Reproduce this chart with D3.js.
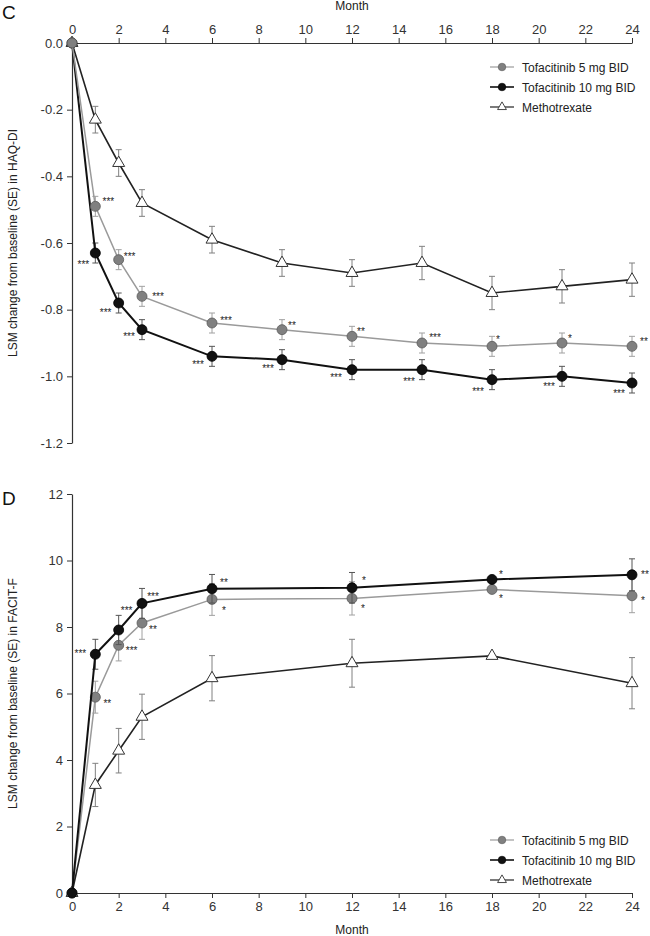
<!DOCTYPE html>
<html>
<head>
<meta charset="utf-8">
<script src="https://cdn.jsdelivr.net/npm/d3@7/dist/d3.min.js"></script>
<style>
  html, body { margin: 0; padding: 0; background: #fff; }
  svg { display: block; font-family: "Liberation Sans", Arial, Helvetica, sans-serif; }
</style>
</head>
<body>
<svg id="chart" width="650" height="936"></svg>
<script>
// ---------- DATA ----------
const seriesNames = ["Tofacitinib 5 mg BID", "Tofacitinib 10 mg BID", "Methotrexate"];

// Panel C: HAQ-DI
const haqMonths = [0, 1, 2, 3, 6, 9, 12, 15, 18, 21, 24];
const haq5    = [0, -0.49, -0.65, -0.76, -0.84, -0.86, -0.88, -0.90, -0.91, -0.90, -0.91];
const haq5Se  = [0, 0.03, 0.03, 0.03, 0.03, 0.03, 0.03, 0.03, 0.03, 0.03, 0.03];
const haq10   = [0, -0.63, -0.78, -0.86, -0.94, -0.95, -0.98, -0.98, -1.01, -1.00, -1.02];
const haq10Se = [0, 0.03, 0.03, 0.03, 0.03, 0.03, 0.03, 0.03, 0.03, 0.03, 0.03];
const haqMtx  = [0, -0.23, -0.36, -0.48, -0.59, -0.66, -0.69, -0.66, -0.75, -0.73, -0.71];
const haqMtxSe= [0, 0.04, 0.04, 0.04, 0.04, 0.04, 0.04, 0.05, 0.05, 0.05, 0.05];
const haq5Sig  = ["", "***", "***", "***", "***", "**", "**", "***", "*", "*", "**"];
const haq10Sig = ["", "***", "***", "***", "***", "***", "***", "***", "***", "***", "***"];
const haqYTicks = [0, -0.2, -0.4, -0.6, -0.8, -1.0, -1.2];

// Panel D: FACIT-F
const facMonths = [0, 1, 2, 3, 6, 12, 18, 24];
const fac5    = [0, 5.89, 7.45, 8.12, 8.83, 8.86, 9.13, 8.94];
const fac5Se  = [0, 0.48, 0.47, 0.49, 0.48, 0.50, 0, 0.51];
const fac10   = [0, 7.18, 7.91, 8.71, 9.15, 9.18, 9.43, 9.57];
const fac10Se = [0, 0.45, 0.44, 0.45, 0.43, 0.46, 0, 0.48];
const facMtx  = [0, 3.25, 4.28, 5.30, 6.46, 6.91, 7.13, 6.31];
const facMtxSe= [0, 0.65, 0.67, 0.68, 0.68, 0.72, 0, 0.77];
const fac5Sig  = ["", "**", "***", "**", "*", "*", "*", "*"];
const fac10Sig = ["", "***", "***", "***", "**", "*", "*", "**"];
const facYTicks = [0, 2, 4, 6, 8, 10, 12];

const monthTicks = [0, 2, 4, 6, 8, 10, 12, 14, 16, 18, 20, 22, 24];

// ---------- LAYOUT (pixel offsets of significance labels) ----------
const haq5SigOff  = [null, [13,-7],[11,-5],[16,-2],[14,-5],[10,-6],[9,-7],[13,-8],[6,-9],[8,-6.5],[12,-7]];
const haq10SigOff = [null, [-12,9],[-13,7],[-13,5],[-14,6],[-14,7],[-16,6],[-13,10],[-14,10],[-13,8],[-13,8]];
const fac5SigOff  = [null, [12,4],[13,3],[11,4],[12,9],[11,8],[9,7],[11,3]];
const fac10SigOff = [null, [-15,-3],[8,-21],[11,-9],[12,-8],[12,-9],[9,-7],[13,-2]];

const styles = [
  { line: "#9a9a9a", lw: 1.5, fill: "#808080", stroke: "#5a5a5a", err: "#a0a0a0", shape: "circle" },
  { line: "#111111", lw: 2,   fill: "#111111", stroke: "#000000", err: "#555555", shape: "circle" },
  { line: "#222222", lw: 1.6, fill: "#ffffff", stroke: "#333333", err: "#808080", shape: "triangle" }
];

const svg = d3.select("#chart");
const X0 = 72, X1 = 632;

function drawPanel(cfg) {
  const g = svg.append("g");
  const x = d3.scaleLinear().domain([0, 24]).range([X0, X1]);
  const y = d3.scaleLinear().domain(cfg.yDomain).range(cfg.yRange);

  // axes
  const xAxis = (cfg.xTop ? d3.axisTop(x) : d3.axisBottom(x))
    .tickValues(monthTicks).tickSize(5).tickSizeOuter(0).tickPadding(4);
  const xg = g.append("g")
    .attr("transform", `translate(0,${cfg.xAxisY})`)
    .call(xAxis);
  const yAxis = d3.axisLeft(y).tickValues(cfg.yTicks).tickSize(5).tickSizeOuter(0)
    .tickPadding(4).tickFormat(cfg.yFormat);
  const yg = g.append("g").attr("transform", `translate(${X0},0)`).call(yAxis);
  [xg, yg].forEach(a => {
    a.selectAll("path.domain").attr("stroke", "#333").attr("stroke-width", 1.2);
    a.selectAll(".tick line").attr("stroke", "#333").attr("stroke-width", 1);
    a.selectAll(".tick text").attr("fill", "#333").attr("font-size", 13)
      .attr("font-family", "'Liberation Sans', Arial, sans-serif");
  });

  g.append("text").attr("x", x(12)).attr("y", cfg.monthLabelY)
    .attr("text-anchor", "middle").attr("font-size", 12).attr("fill", "#222").text("Month");

  g.append("text")
    .attr("transform", `translate(17,${(cfg.yRange[0] + cfg.yRange[1]) / 2}) rotate(-90)`)
    .attr("text-anchor", "middle").attr("font-size", 12).attr("fill", "#222")
    .text(cfg.yTitle);

  g.append("text").attr("x", 2).attr("y", cfg.letterY)
    .attr("font-size", 19).attr("fill", "#111").text(cfg.letter);

  const months = cfg.months;
  const line = d3.line().x(d => x(d.m)).y(d => y(d.v));

  cfg.order.forEach(si => {
    const st = styles[si];
    const vals = cfg.values[si], ses = cfg.ses[si];
    const pts = months.map((m, i) => ({ m, v: vals[i], se: ses[i] }));
    const sg = g.append("g");
    // error bars
    pts.filter(p => p.se > 0).forEach(p => {
      const cx = x(p.m), yt = y(p.v + p.se), yb = y(p.v - p.se);
      sg.append("line").attr("x1", cx).attr("x2", cx).attr("y1", yt).attr("y2", yb)
        .attr("stroke", st.err).attr("stroke-width", 1);
      [yt, yb].forEach(yy => sg.append("line").attr("x1", cx - 3).attr("x2", cx + 3)
        .attr("y1", yy).attr("y2", yy).attr("stroke", st.err).attr("stroke-width", 1));
    });
    sg.append("path").datum(pts).attr("d", line).attr("fill", "none")
      .attr("stroke", st.line).attr("stroke-width", st.lw);
    pts.forEach(p => {
      if (st.shape === "circle") {
        sg.append("circle").attr("cx", x(p.m)).attr("cy", y(p.v)).attr("r", 5)
          .attr("fill", st.fill).attr("stroke", st.stroke).attr("stroke-width", 0.8);
      } else {
        sg.append("path").attr("d", d3.symbol(d3.symbolTriangle, 62)())
          .attr("transform", `translate(${x(p.m)},${y(p.v)})`)
          .attr("fill", st.fill).attr("stroke", st.stroke).attr("stroke-width", 1);
      }
    });
  });

  // significance labels
  cfg.sigs.forEach(s => {
    s.labels.forEach((lab, i) => {
      if (!lab) return;
      const off = s.off[i];
      g.append("text")
        .attr("x", x(months[i]) + off[0])
        .attr("y", y(s.vals[i]) + off[1] + 5.5)
        .attr("text-anchor", "middle").attr("font-size", 10).attr("fill", "#222")
        .text(lab);
    });
  });

  // legend
  const lg = g.append("g");
  cfg.legendRows.forEach((ry, i) => {
    const st = styles[i];
    lg.append("line").attr("x1", 490).attr("x2", 514).attr("y1", ry).attr("y2", ry)
      .attr("stroke", st.line).attr("stroke-width", i === 1 ? 1.6 : 1.2);
    if (st.shape === "circle") {
      lg.append("circle").attr("cx", 502).attr("cy", ry).attr("r", 3.8)
        .attr("fill", st.fill).attr("stroke", st.stroke).attr("stroke-width", 0.6);
    } else {
      lg.append("path").attr("d", d3.symbol(d3.symbolTriangle, 34)())
        .attr("transform", `translate(502,${ry})`)
        .attr("fill", "#fff").attr("stroke", st.stroke).attr("stroke-width", 0.9);
    }
    lg.append("text").attr("x", 522).attr("y", ry + 4.5).attr("font-size", 12)
      .attr("fill", "#222").text(seriesNames[i]);
  });
}

drawPanel({
  letter: "C", letterY: 19,
  yDomain: [0, -1.2], yRange: [43, 443], yTicks: haqYTicks,
  yFormat: d => d.toFixed(1),
  xTop: true, xAxisY: 43, monthLabelY: 10,
  yTitle: "LSM change from baseline (SE) in HAQ-DI",
  months: haqMonths,
  values: [haq5, haq10, haqMtx], ses: [haq5Se, haq10Se, haqMtxSe],
  order: [2, 1, 0],
  sigs: [
    { labels: haq5Sig, off: haq5SigOff, vals: haq5 },
    { labels: haq10Sig, off: haq10SigOff, vals: haq10 }
  ],
  legendRows: [67, 87, 107]
});

drawPanel({
  letter: "D", letterY: 505,
  yDomain: [0, 12], yRange: [893, 494], yTicks: facYTicks,
  yFormat: d => String(d),
  xTop: false, xAxisY: 893, monthLabelY: 934,
  yTitle: "LSM change from baseline (SE) in FACIT-F",
  months: facMonths,
  values: [fac5, fac10, facMtx], ses: [fac5Se, fac10Se, facMtxSe],
  order: [0, 2, 1],
  sigs: [
    { labels: fac5Sig, off: fac5SigOff, vals: fac5 },
    { labels: fac10Sig, off: fac10SigOff, vals: fac10 }
  ],
  legendRows: [840, 860, 880]
});
</script>
</body>
</html>
